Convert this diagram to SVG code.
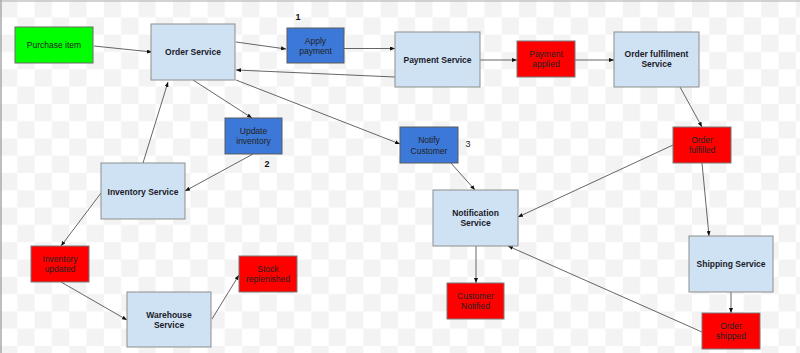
<svg xmlns="http://www.w3.org/2000/svg" width="800" height="353" viewBox="0 0 800 353">
<defs>
<pattern id="chk" x="0" y="0" width="34.6" height="34.6" patternUnits="userSpaceOnUse">
<rect x="0" y="0" width="17.3" height="17.3" fill="#f3f3f3"/>
<rect x="17.3" y="17.3" width="17.3" height="17.3" fill="#f3f3f3"/>
</pattern>
<marker id="ah" viewBox="0 0 10 8" refX="10" refY="4" markerWidth="5" markerHeight="4" markerUnits="userSpaceOnUse" orient="auto">
<path d="M0,0 L10,4 L0,8 Z" fill="#111"/>
</marker>
<style>
.svc{fill:#cfe2f3;stroke:#8e8e8e;stroke-width:1}
.evt{fill:#ff0000;stroke:#7a7a7a;stroke-width:1}
.cmd{fill:#3c78d8;stroke:#5a5a5a;stroke-width:1}
.start{fill:#00ff00;stroke:#6a6a6a;stroke-width:1}
text{font-family:"Liberation Sans",Arial,sans-serif;font-size:8.5px;text-anchor:middle}
.b{font-weight:bold;fill:#1a1a2a}
.n{fill:#222}
.num{font-weight:bold;font-size:9px;fill:#111}
#connectors line{stroke:#555;stroke-width:0.9;marker-end:url(#ah)}
</style>
</defs>
<rect x="0" y="0" width="800" height="353" fill="#ffffff"/>
<rect x="0" y="0" width="800" height="353" fill="url(#chk)"/>
<line x1="0" y1="1" x2="800" y2="1" stroke="#c4c4c4" stroke-width="1.5"/>
<line x1="1" y1="0" x2="1" y2="353" stroke="#a8a8a8" stroke-width="1.5"/>

<g id="connectors">
<line x1="94" y1="46" x2="152" y2="52"/>
<line x1="236" y1="42" x2="286" y2="49"/>
<line x1="344" y1="48.5" x2="395" y2="48.5"/>
<line x1="395" y1="77" x2="236" y2="70"/>
<line x1="193" y1="80" x2="252" y2="118"/>
<line x1="236" y1="80" x2="400" y2="144"/>
<line x1="253" y1="154" x2="185" y2="191"/>
<line x1="143" y1="163" x2="168" y2="82"/>
<line x1="101" y1="193" x2="61" y2="246"/>
<line x1="61" y1="282" x2="127" y2="320"/>
<line x1="212" y1="319" x2="239" y2="275"/>
<line x1="480" y1="60" x2="517" y2="60"/>
<line x1="575" y1="60" x2="614" y2="60"/>
<line x1="680" y1="87" x2="702" y2="127"/>
<line x1="673" y1="145" x2="518" y2="217"/>
<line x1="702" y1="163" x2="709" y2="236"/>
<line x1="450" y1="162" x2="475" y2="190"/>
<line x1="476" y1="246" x2="476" y2="283"/>
<line x1="731" y1="292" x2="731" y2="313"/>
<line x1="702" y1="332" x2="508" y2="246"/>
</g>

<g id="purchase-item"><rect class="start" x="15" y="27" width="78" height="36"/><text class="n" x="54" y="48">Purchase item</text></g>
<g id="order-service"><rect class="svc" x="151" y="24" width="84" height="56"/><text class="b" x="193" y="55">Order Service</text></g>
<g id="apply-payment"><rect class="cmd" x="287" y="28" width="57" height="35"/><text class="n" x="315.5" y="44">Apply</text><text class="n" x="315.5" y="54">payment</text></g>
<g id="label-1"><text class="num" x="298" y="20">1</text></g>
<g id="payment-service"><rect class="svc" x="395" y="32" width="85" height="55"/><text class="b" x="437.5" y="63">Payment Service</text></g>
<g id="payment-applied"><rect class="evt" x="517" y="41" width="58" height="36"/><text class="n" x="546" y="57">Payment</text><text class="n" x="546" y="67">applied</text></g>
<g id="order-fulfilment-service"><rect class="svc" x="614" y="32" width="85" height="55"/><text class="b" x="656.5" y="57">Order fulfilment</text><text class="b" x="656.5" y="67">Service</text></g>
<g id="order-fulfilled"><rect class="evt" x="673" y="127" width="58" height="36"/><text class="n" x="702" y="143">Order</text><text class="n" x="702" y="153">fulfilled</text></g>
<g id="notify-customer"><rect class="cmd" x="400" y="127" width="58" height="36"/><text class="n" x="429" y="143">Notify</text><text class="n" x="429" y="154">Customer</text></g>
<g id="label-3"><text class="n" x="468" y="147" style="font-size:9px">3</text></g>
<g id="update-inventory"><rect class="cmd" x="225" y="118" width="57" height="36"/><text class="n" x="253.5" y="134">Update</text><text class="n" x="253.5" y="144">inventory</text></g>
<g id="label-2"><text class="num" x="267" y="167">2</text></g>
<g id="inventory-service"><rect class="svc" x="101" y="163" width="84" height="56"/><text class="b" x="143" y="195">Inventory Service</text></g>
<g id="inventory-updated"><rect class="evt" x="31" y="246" width="58" height="36"/><text class="n" x="60" y="262">Inventory</text><text class="n" x="60" y="272">updated</text></g>
<g id="warehouse-service"><rect class="svc" x="127" y="292" width="84" height="55"/><text class="b" x="169" y="318">Warehouse</text><text class="b" x="169" y="328">Service</text></g>
<g id="stock-replenished"><rect class="evt" x="239" y="256" width="58" height="36"/><text class="n" x="268" y="272">Stock</text><text class="n" x="268" y="282">replenished</text></g>
<g id="notification-service"><rect class="svc" x="433" y="190" width="85" height="56"/><text class="b" x="475.5" y="216">Notification</text><text class="b" x="475.5" y="226">Service</text></g>
<g id="customer-notified"><rect class="evt" x="447" y="283" width="57" height="36"/><text class="n" x="475.5" y="299">Customer</text><text class="n" x="475.5" y="309">Notified</text></g>
<g id="shipping-service"><rect class="svc" x="689" y="236" width="84" height="56"/><text class="b" x="731" y="267">Shipping Service</text></g>
<g id="order-shipped"><rect class="evt" x="702" y="313" width="58" height="36"/><text class="n" x="731" y="329">Order</text><text class="n" x="731" y="339">shipped</text></g>
</svg>
